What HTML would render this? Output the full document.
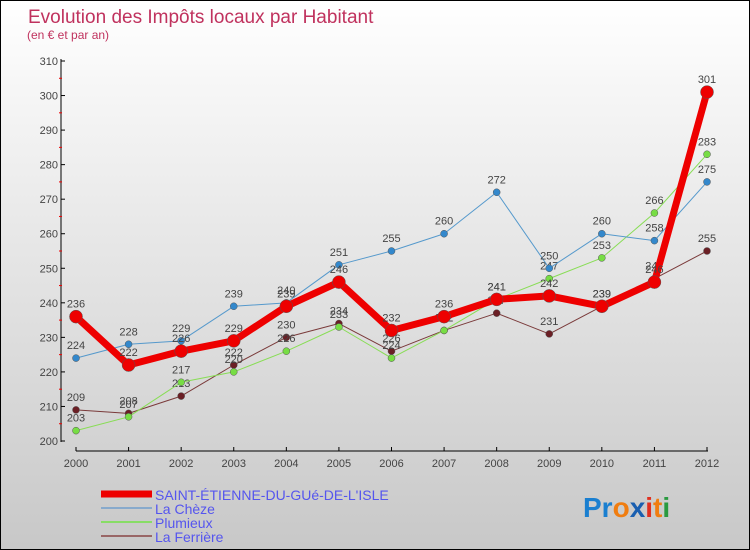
<!DOCTYPE html>
<html><head><meta charset="utf-8"><style>
body{margin:0}
#wrap{position:relative;width:748px;height:548px;border:1px solid #000;background:linear-gradient(#fff,#c8c8c8);font-family:"Liberation Sans",sans-serif;overflow:hidden}
svg{position:absolute;left:0;top:0}
</style></head><body>
<div id="wrap">
<svg id="chart" width="748" height="548">
<text x="27" y="22" font-size="19" fill="#c0325e">Evolution des Impôts locaux par Habitant</text>
<text x="26" y="38" font-size="12" fill="#c0325e">(en € et par an)</text>
<g id="axes"></g><g id="series"></g><g id="legend"></g>
<text x="582" y="516" font-size="28" font-weight="bold"><tspan fill="#1a7fd0">Pr</tspan><tspan fill="#f07d10">o</tspan><tspan fill="#1a5fb0">x</tspan><tspan fill="#e03020">i</tspan><tspan fill="#f07d10">t</tspan><tspan fill="#2a9a40">i</tspan></text>
</svg>
</div>
<script>
const years=[2000,2001,2002,2003,2004,2005,2006,2007,2008,2009,2010,2011,2012];
const yTicks=[200,210,220,230,240,250,260,270,280,290,300,310];
const seriesNames=["SAINT-ÉTIENNE-DU-GUé-DE-L'ISLE","La Chèze","Plumieux","La Ferrière"];
const stEtienne=[236,222,226,229,239,246,232,236,241,242,239,246,301];
const laCheze=[224,228,229,239,240,251,255,260,272,250,260,258,275];
const plumieux=[203,207,217,220,226,233,224,232,241,247,253,266,283];
const laFerriere=[209,208,213,222,230,234,226,232,237,231,239,247,255];
const NS="http://www.w3.org/2000/svg";
const x=i=>75+i*(706-75)/(years.length-1);
const y=v=>440-(v-200)*(380/110);
function mk(tag,attrs,parent,txt){const e=document.createElementNS(NS,tag);for(const k in attrs)e.setAttribute(k,attrs[k]);if(txt!==undefined)e.textContent=txt;parent.appendChild(e);return e;}
const ax=document.getElementById('axes');
let e=mk('line',{x1:60,y1:58,x2:60,y2:441,stroke:'#000','stroke-width':1},ax);

yTicks.forEach(t=>{mk('line',{x1:60,y1:y(t),x2:64,y2:y(t),stroke:'#000'},ax);
 if(t<310){mk('line',{x1:58,y1:y(t+5),x2:61,y2:y(t+5),stroke:'#e00'},ax);}
 const l=mk('text',{x:57,y:y(t)+4,'font-size':11,fill:'#444','text-anchor':'end'},ax,t);
 });
e=mk('line',{x1:75,y1:450,x2:707,y2:450,stroke:'#000'},ax);

years.forEach((yr,i)=>{mk('line',{x1:x(i),y1:446,x2:x(i),y2:450,stroke:'#000'},ax);
 const l=mk('text',{x:x(i),y:466,'font-size':11,fill:'#444','text-anchor':'middle'},ax,yr);
 });
const sg=document.getElementById('series');
function draw(data,color,w,r,name,dot){
 const g=mk('g',{},sg);
 
 mk('polyline',{points:data.map((v,i)=>x(i)+','+y(v)).join(' '),fill:'none',stroke:color,'stroke-width':w,'stroke-linejoin':'round'},g);
 data.forEach((v,i)=>{const c=mk('circle',{cx:x(i),cy:y(v),r:r,fill:dot,stroke:'#555','stroke-width':0.5},g);
  
  mk('text',{x:x(i),y:y(v)-9,'font-size':11,fill:'#444','text-anchor':'middle'},g,v);});
}
draw(laFerriere,'#7a3a3a',1,3.5,'series-la-ferriere','#6b1f25');
draw(plumieux,'#88dd55',1,3.5,'series-plumieux','#77dd44');
draw(laCheze,'#5599cc',1,3.5,'series-la-cheze','#3388cc');
draw(stEtienne,'#ee0000',7,6.5,'series-saint-etienne','#ee0000');
const lg=document.getElementById('legend');
const lc=['#ee0000','#88aacc','#88dd66','#996666'],lw=[7,2,2,2];
seriesNames.forEach((n,i)=>{const g=mk('g',{},lg);
 
 mk('line',{x1:100,y1:493+i*14,x2:151,y2:493+i*14,stroke:lc[i],'stroke-width':lw[i]},g);
 mk('text',{x:154,y:499+i*14,'font-size':14,fill:'#5555ee'},g,n);});
</script>
</body></html>
